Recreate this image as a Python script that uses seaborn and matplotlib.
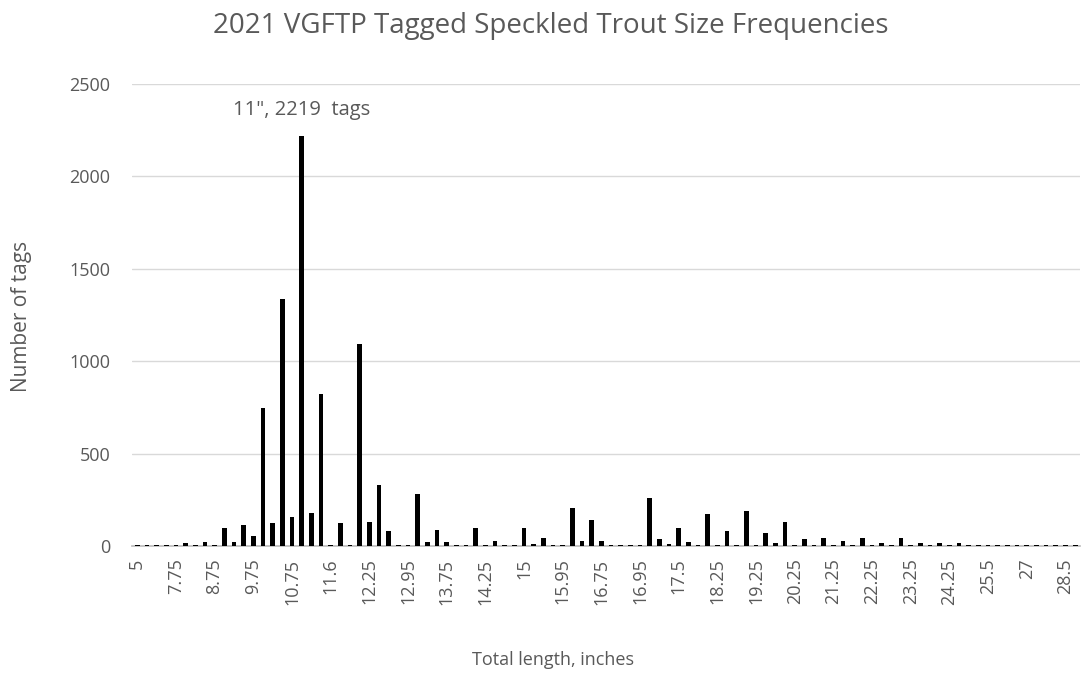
import pandas as pd
import seaborn as sns
import matplotlib.pyplot as plt

# size classes (inches) - only every 4th one gets a label on the axis
lengths = [
    "5", "6", "7", "7.5", "7.75", "8", "8.25", "8.5", "8.75", "9",
    "9.25", "9.5", "9.75", "10", "10.25", "10.5", "10.75", "11", "11.25", "11.5",
    "11.6", "11.75", "11.8", "12", "12.25", "12.5", "12.75", "12.9", "12.95", "13",
    "13.25", "13.5", "13.75", "13.8", "13.9", "14", "14.25", "14.5", "14.75", "14.9",
    "15", "15.25", "15.5", "15.75", "15.95", "16", "16.25", "16.5", "16.75", "16.8",
    "16.85", "16.9", "16.95", "17", "17.25", "17.4", "17.5", "17.75", "17.9", "18",
    "18.25", "18.5", "18.75", "19", "19.25", "19.5", "19.75", "20", "20.25", "20.5",
    "20.75", "21", "21.25", "21.5", "21.75", "22", "22.25", "22.5", "22.75", "23",
    "23.25", "23.5", "23.75", "24", "24.25", "24.5", "24.75", "25", "25.5", "25.75",
    "26", "26.5", "27", "27.25", "27.5", "28", "28.5", "29",
]

tags = [
    8, 8, 8, 8, 8, 18, 8, 20, 8, 95,
    20, 113, 52, 745, 124, 1335, 155, 2219, 176, 825,
    8, 124, 8, 1095, 131, 330, 81, 8, 8, 279,
    20, 88, 20, 8, 8, 95, 8, 27, 8, 8,
    95, 10, 43, 8, 8, 207, 27, 140, 27, 8,
    8, 8, 8, 261, 36, 10, 95, 20, 8, 175,
    8, 79, 8, 191, 8, 70, 16, 131, 8, 36,
    8, 43, 8, 27, 8, 43, 8, 16, 8, 43,
    8, 18, 8, 18, 8, 18, 5, 5, 8, 8,
    8, 8, 8, 8, 8, 8, 8, 8,
]

peak_label = '11", 2219  tags'

df = pd.DataFrame({"length": lengths, "tags": tags})

sns.set_theme(style="white")
plt.rcParams['font.family'] = ['Open Sans', 'DejaVu Sans']
grey = '#595959'

fig = plt.figure(figsize=(10.81, 6.77), dpi=100)
ax = fig.add_axes([0.1225, 0.1935, 0.8765, 0.6825])

sns.barplot(data=df, x="length", y="tags", color="black", saturation=1,
            width=0.5, linewidth=0, order=lengths, ax=ax, zorder=3)

ax.set_xlim(-0.5, len(lengths) - 0.5)
ax.set_ylim(0, 2500)
ax.set_yticks(range(0, 2501, 500))
ax.yaxis.grid(True, color='#d9d9d9', linewidth=1, zorder=0)
ax.set_axisbelow(True)

ticks = list(range(0, len(lengths), 4))
ax.set_xticks(ticks)
ax.set_xticklabels([lengths[i] for i in ticks], rotation=90)
ax.tick_params(axis='both', length=0, labelsize=13, labelcolor=grey)
ax.tick_params(axis='x', pad=9)
ax.tick_params(axis='y', pad=16)

for side in ['top', 'right', 'left']:
    ax.spines[side].set_visible(False)
ax.spines['bottom'].set_color('#bfbfbf')

peak = tags.index(max(tags))
ax.text(peak, 2360, peak_label, ha='center', va='center',
        fontsize=14.5, color=grey)

ax.set_xlabel("")
ax.set_ylabel("")
fig.text(553 / 1081, 1 - 660 / 677, "Total length, inches", ha='center',
         va='center', fontsize=13, color=grey)
fig.text(22 / 1081, 1 - 316 / 677, "Number of tags", ha='center',
         va='center', rotation=90, fontsize=15, color=grey)
fig.text(551 / 1081, 1 - 26 / 677,
         "2021 VGFTP Tagged Speckled Trout Size Frequencies",
         ha='center', va='center', fontsize=20, color=grey)

fig.savefig("out.png", dpi=100)
